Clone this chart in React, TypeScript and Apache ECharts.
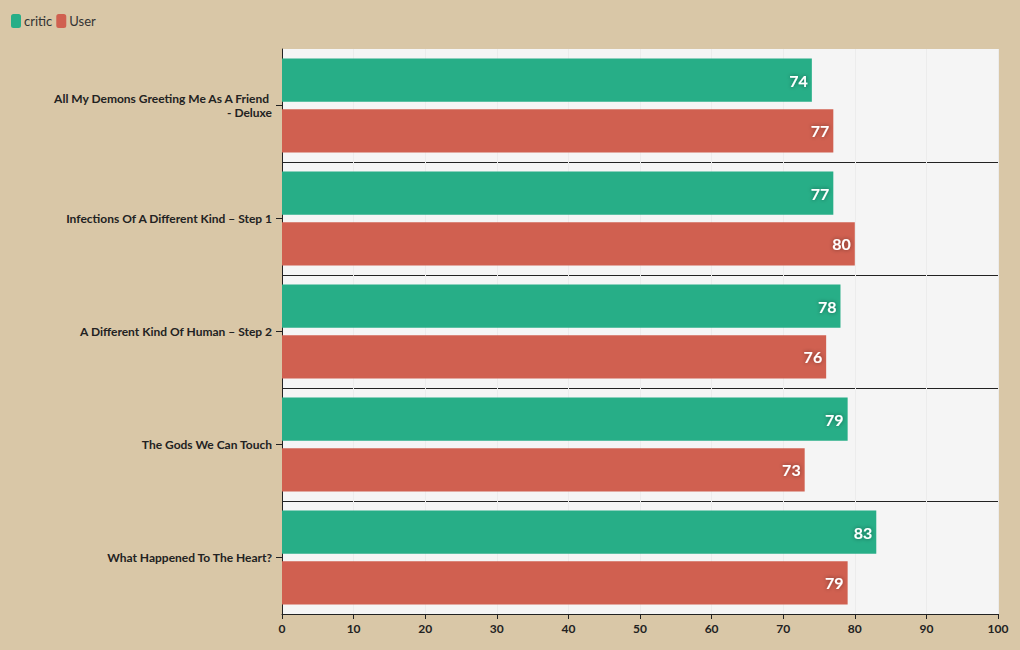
import React, { useEffect, useRef } from "react";
import * as echarts from "echarts";

const categories = [
  "All My Demons Greeting Me As A Friend - Deluxe",
  "Infections Of A Different Kind – Step 1",
  "A Different Kind Of Human – Step 2",
  "The Gods We Can Touch",
  "What Happened To The Heart?",
];
const criticValues = [74, 77, 78, 79, 83];
const userValues = [77, 80, 76, 73, 79];
const xTicks = [0, 10, 20, 30, 40, 50, 60, 70, 80, 90, 100];

const FONT = "Lato, 'Noto Sans', sans-serif";

export default function App() {
  const ref = useRef<HTMLDivElement>(null);
  useEffect(() => {
    const chart = echarts.init(ref.current!, null, { renderer: "svg" });
    const label = {
      show: true,
      position: "insideRight",
      color: "#fff",
      fontFamily: FONT,
      fontWeight: "bold",
      fontSize: 16,
      textShadowColor: "rgba(0,0,0,0.45)",
      textShadowBlur: 4,
      distance: 4,
    };
    chart.setOption({
      animation: false,
      backgroundColor: "#d9c7a7",
      textStyle: { fontFamily: FONT },
      legend: {
        left: 6,
        top: 9,
        itemWidth: 10,
        itemHeight: 14,
        itemGap: 4,
        icon: "roundRect",
        textStyle: { fontSize: 13, color: "#333", fontFamily: FONT, padding: [0, 0, 0, -2] },
        data: ["critic", "User"],
      },
      grid: {
        left: 282,
        right: 22,
        top: 49,
        bottom: 36,
        show: true,
        backgroundColor: "#f5f5f5",
        borderWidth: 0,
      },
      xAxis: {
        type: "value",
        min: 0,
        max: 100,
        interval: 10,
        axisLine: { show: true, lineStyle: { color: "#222", width: 1 } },
        axisTick: { show: true, length: 5, lineStyle: { color: "#222" } },
        axisLabel: {
          color: "#222",
          fontWeight: "bold",
          fontSize: 12,
          fontFamily: FONT,
          margin: 8,
          customValues: xTicks,
        },
        splitLine: { show: true, lineStyle: { color: "#ececec", width: 1 } },
      },
      yAxis: {
        type: "category",
        inverse: true,
        data: categories,
        axisLine: { show: true, lineStyle: { color: "#222" } },
        axisTick: { show: true, alignWithLabel: true, length: 6, lineStyle: { color: "#222" } },
        axisLabel: {
          color: "#222",
          fontWeight: "bold",
          fontSize: 12,
          lineHeight: 14,
          fontFamily: FONT,
          margin: 10,
          width: 221,
          overflow: "break",
          align: "right",
        },
        splitLine: {
          show: true,
          showMinLine: false,
          showMaxLine: false,
          lineStyle: { color: "#222", width: 1 },
        },
      },
      series: [
        {
          name: "critic",
          type: "bar",
          data: criticValues,
          itemStyle: { color: "#27ae87" },
          barGap: "18%",
          barCategoryGap: "17%",
          label,
        },
        {
          name: "User",
          type: "bar",
          data: userValues,
          itemStyle: { color: "#d06050" },
          label,
        },
      ],
    });
    return () => chart.dispose();
  }, []);
  return <div ref={ref} style={{ width: 1020, height: 650, position: "absolute", left: 0, top: 0 }} />;
}
